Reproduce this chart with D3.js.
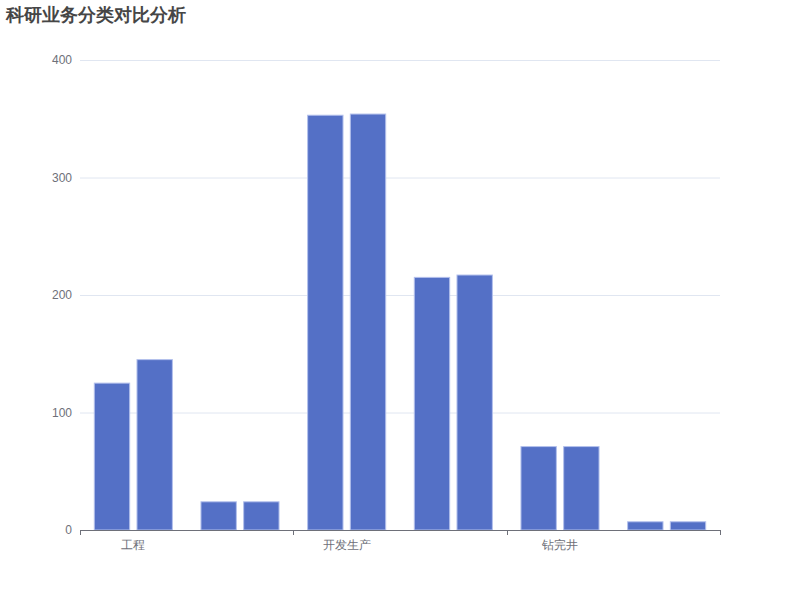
<!DOCTYPE html>
<html>
<head>
<meta charset="utf-8">
<script src="https://cdn.jsdelivr.net/npm/d3@7"></script>
<style>
  body { margin: 0; background: #fff; }
  svg { font-family: sans-serif; }
</style>
</head>
<body>
<svg id="chart"></svg>
<script>
const WIDTH = 800;
const HEIGHT = 600;

// categories (only every other label is shown, like the original axis)
const categories = ["工程", "类别2", "开发生产", "类别4", "钻完井", "类别6"];
const seriesNames = ["系列1", "系列2"];
const seriesA = [125, 24, 353, 215, 71, 7];
const seriesB = [145, 24, 354, 217, 71, 7];
const yTicks = [0, 100, 200, 300, 400];

const svg = d3.select("#chart")
  .attr("width", WIDTH)
  .attr("height", HEIGHT);

const x = d3.scaleBand().domain(categories).range([80, 720]).padding(0);
const xInner = d3.scaleBand().domain(seriesNames)
  .range([0, x.bandwidth()])
  .paddingInner(0.171)
  .paddingOuter(0.335);
const y = d3.scaleLinear().domain([0, 400]).range([530, 60]);

// title
svg.append("text")
  .attr("x", 6)
  .attr("y", 21)
  .attr("font-size", 18)
  .attr("font-weight", "bold")
  .attr("fill", "#464646")
  .text("科研业务分类对比分析");

// grid lines
svg.append("g")
  .selectAll("line")
  .data(yTicks.filter(d => d > 0))
  .join("line")
  .attr("x1", 80)
  .attr("x2", 720)
  .attr("y1", d => y(d) + 0.5)
  .attr("y2", d => y(d) + 0.5)
  .attr("stroke", "#e0e6f1");

// y axis labels
const yAxis = svg.append("g")
  .attr("transform", "translate(80,0)")
  .call(d3.axisLeft(y).tickValues(yTicks).tickSize(0).tickPadding(8));
yAxis.select(".domain").remove();
yAxis.selectAll("text")
  .attr("fill", "#6e7079")
  .attr("font-size", 12)
  .attr("font-family", "sans-serif");

// bars
const rows = categories.map((c, i) => ({ cat: c, vals: [seriesA[i], seriesB[i]] }));
svg.append("g")
  .selectAll("g")
  .data(rows)
  .join("g")
  .attr("transform", d => `translate(${x(d.cat)},0)`)
  .selectAll("rect")
  .data(d => d.vals.map((v, j) => ({ name: seriesNames[j], value: v })))
  .join("rect")
  .attr("x", d => xInner(d.name))
  .attr("y", d => y(d.value))
  .attr("width", xInner.bandwidth())
  .attr("height", d => y(0) - y(d.value))
  .attr("fill", "#5470c6")
  .attr("stroke", "#b3c0ec")
  .attr("stroke-width", 1);

// x axis: ticks and labels every second category
const xAxis = svg.append("g").attr("transform", "translate(0,530)");
xAxis.append("line")
  .attr("x1", 80).attr("x2", 720)
  .attr("y1", 0.5).attr("y2", 0.5)
  .attr("stroke", "#6e7079");
const tickPos = categories.filter((c, i) => i % 2 === 0).map(c => x(c)).concat([720]);
xAxis.selectAll(".tick")
  .data(tickPos)
  .join("line")
  .attr("x1", d => Math.round(d) + 0.5)
  .attr("x2", d => Math.round(d) + 0.5)
  .attr("y1", 0)
  .attr("y2", 5)
  .attr("stroke", "#6e7079");
xAxis.selectAll("text")
  .data(categories.filter((c, i) => i % 2 === 0))
  .join("text")
  .attr("x", d => x(d) + x.bandwidth() / 2)
  .attr("y", 19)
  .attr("text-anchor", "middle")
  .attr("font-size", 12)
  .attr("fill", "#6e7079")
  .text(d => d);
</script>
</body>
</html>
